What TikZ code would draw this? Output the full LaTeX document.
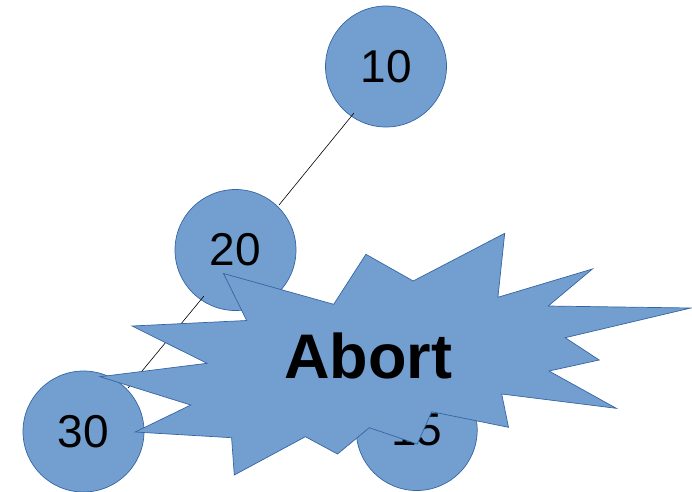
\documentclass[tikz,border=0pt]{standalone}
\usepackage{fontspec}
\setmainfont{Liberation Sans}
\usetikzlibrary{calc}
\definecolor{nodefill}{RGB}{114,159,207}
\definecolor{nodeline}{RGB}{52,101,164}
\begin{document}
\begin{tikzpicture}[x=1pt,y=-1pt,
  treenode/.style={circle,draw=nodeline,fill=nodefill,line width=0.7pt,
    minimum size=121pt,inner sep=0pt,font=\fontsize{46}{50}\selectfont},
  link/.style={black,line width=0.6pt},
  burst/.style={draw=nodeline,fill=nodefill,line width=0.7pt,line join=miter}]
\useasboundingbox (0,0) rectangle (692,491);
\node[treenode] (n10) at (386,66.5) {10};
\node[treenode] (n20) at (235.5,250) {20};
\node[treenode] (n30) at (83.5,431.5) {30};
\node[treenode] (n15) at (416.7,430) {15};
\draw[link] ($(n10)+(-32,46.5)$) -- ($(n20)+(43.5,-45)$);
\draw[link] ($(n20)+(-31.5,46)$) -- ($(n30)+(44.5,-43.5)$);
\draw[burst] (223.5,273.5) -- (333.7,304.3) -- (365.9,254.3) -- (413.2,281)
 -- (504.7,233.3) -- (497.9,297.3) -- (592.4,269) -- (548.2,306)
 -- (690.8,308) -- (565.2,337.7) -- (599.2,360) -- (549,371)
 -- (616.3,408.3) -- (501.7,394) -- (508.5,427.3) -- (431.7,411.7)
 -- (417.3,444) -- (369.3,427.7) -- (337.5,454) -- (305.4,436.7)
 -- (234.3,475) -- (231.6,437.7) -- (135.2,432) -- (190.8,405)
 -- (100,376.7) -- (207,363.3) -- (132.1,326) -- (246.7,320.5) -- cycle;
\node[anchor=base,inner sep=0pt,font=\fontsize{63}{66}\selectfont\bfseries] (abort) at (368,378) {Abort};
\end{tikzpicture}
\end{document}
